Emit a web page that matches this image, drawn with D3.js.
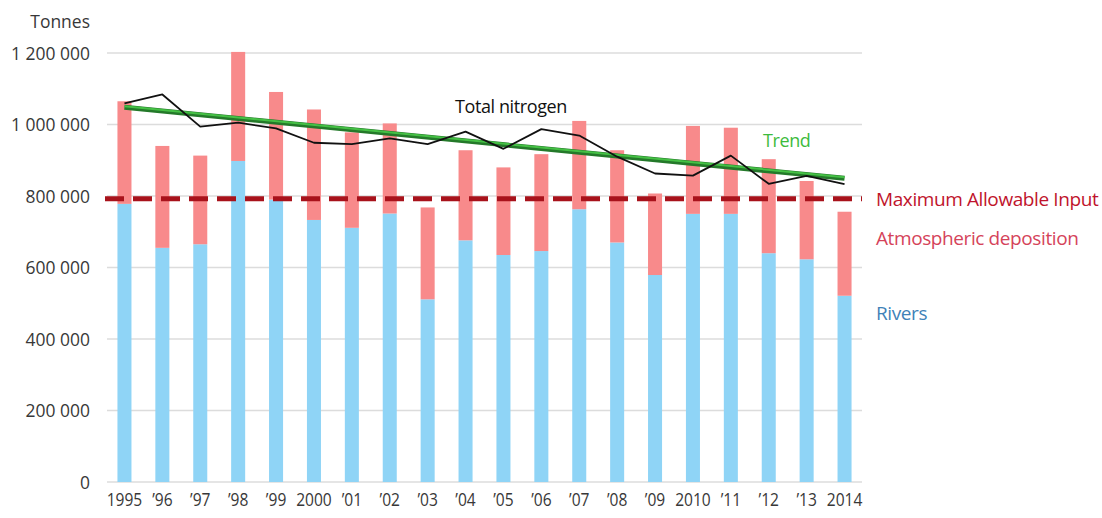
<!DOCTYPE html>
<html>
<head>
<meta charset="utf-8">
<script src="https://cdn.jsdelivr.net/npm/d3@7"></script>
<style>
  body { margin: 0; background: #fff; }
  text { font-family: "Open Sans", "Noto Sans", sans-serif; }
</style>
</head>
<body>
<svg id="mainsvg" width="1102" height="518"></svg>
<script>
// year labels as printed under the bars
let years = ["1995", "’96", "’97", "’98", "’99", "2000", "’01", "’02", "’03", "’04",
             "’05", "’06", "’07", "’08", "’09", "2010", "’11", "’12", "’13", "2014"];
// tonnes of nitrogen from rivers
let rivers = [778000, 655000, 665000, 898000, 790000, 733000, 711000, 751000, 511000, 676000,
              635000, 646000, 763000, 670000, 579000, 750000, 750000, 640000, 623000, 521000];
// tonnes from atmospheric deposition (stacked on rivers)
let atmospheric = [287000, 285000, 248000, 305000, 301000, 309000, 267000, 252000, 257000, 252000,
                   245000, 271000, 247000, 258000, 228000, 246000, 241000, 263000, 219000, 235000];
// normalised total nitrogen (black line)
let totalNitrogen = [1059000, 1084000, 994000, 1005000, 989000, 949000, 945000, 961000, 945000, 980000,
                     932000, 987000, 969000, 910000, 863000, 857000, 913000, 834000, 856000, 833000];
// linear trend, first and last year
let trendEnds = [[0, 1048000], [19, 849500]];
let maxAllowableInput = 792209;
let yTicks = [0, 200000, 400000, 600000, 800000, 1000000, 1200000];

let svg = d3.select("#mainsvg");

let x = d3.scaleBand()
    .domain(d3.range(years.length))
    .range([98.5, 870.5])
    .paddingInner(0.63)
    .paddingOuter(0.5);
let y = d3.scaleLinear().domain([0, 1200000]).range([482, 53]);
let cx = i => x(i) + x.bandwidth() / 2;

let fmt = v => d3.format(",")(v).replace(/,/g, " ");

// gridlines
svg.append("g").selectAll("line").data(yTicks).enter()
    .append("line")
    .attr("x1", 107).attr("x2", 862)
    .attr("y1", d => y(d)).attr("y2", d => y(d))
    .attr("stroke", "#dcdcdc").attr("stroke-width", 1.5);

// y axis labels (no domain line)
let yAxis = svg.append("g")
    .attr("transform", "translate(90,0)")
    .call(d3.axisLeft(y).tickValues(yTicks).tickFormat(fmt).tickSize(0).tickPadding(0));
yAxis.select(".domain").remove();
yAxis.selectAll("text")
    .attr("font-size", 19).attr("fill", "#383838")
    .attr("font-family", "'Open Sans', sans-serif")
    .attr("transform", "scale(0.92,1)");

svg.append("text")
    .attr("x", 90).attr("y", 28)
    .attr("text-anchor", "end")
    .attr("font-size", 19).attr("fill", "#383838")
    .attr("transform", "translate(90,0) scale(0.92,1) translate(-90,0)")
    .text("Tonnes");

// x axis labels
let xAxis = svg.append("g")
    .attr("transform", "translate(0,493)")
    .call(d3.axisBottom(x).tickFormat(i => years[i]).tickSize(0).tickPadding(0));
xAxis.select(".domain").remove();
xAxis.selectAll("text")
    .attr("font-size", 19).attr("fill", "#383838")
    .attr("font-family", "'Open Sans', sans-serif")
    .attr("transform", "scale(0.82,1)");

// stacked bars
let barsg = svg.append("g");
barsg.selectAll(".river").data(rivers).enter()
    .append("rect")
    .attr("class", "river")
    .attr("x", (d, i) => x(i))
    .attr("width", x.bandwidth())
    .attr("y", d => y(d))
    .attr("height", d => y(0) - y(d))
    .attr("fill", "#8fd4f6");
barsg.selectAll(".atmo").data(atmospheric).enter()
    .append("rect")
    .attr("class", "atmo")
    .attr("x", (d, i) => x(i))
    .attr("width", x.bandwidth())
    .attr("y", (d, i) => y(rivers[i] + d))
    .attr("height", (d, i) => y(rivers[i]) - y(rivers[i] + d))
    .attr("fill", "#f88a8b");

// maximum allowable input
svg.append("line")
    .attr("x1", 105).attr("x2", 862)
    .attr("y1", y(maxAllowableInput)).attr("y2", y(maxAllowableInput))
    .attr("stroke", "#a8121b").attr("stroke-width", 5)
    .attr("stroke-dasharray", "19,9");

// trend
let trendLine = d3.line().x(d => cx(d[0])).y(d => y(d[1]));
svg.append("path").attr("d", trendLine(trendEnds))
    .attr("fill", "none").attr("stroke", "#24792a").attr("stroke-width", 5);
svg.append("path").attr("d", trendLine(trendEnds))
    .attr("transform", "translate(0,-1)")
    .attr("fill", "none").attr("stroke", "#45c045").attr("stroke-width", 2);

// total nitrogen
let totalLine = d3.line().x((d, i) => cx(i)).y(d => y(d));
svg.append("path").attr("d", totalLine(totalNitrogen))
    .attr("fill", "none").attr("stroke", "#111").attr("stroke-width", 1.8)
    .attr("stroke-linejoin", "round");

// labels
svg.append("text").attr("x", 455).attr("y", 113)
    .attr("font-size", 18).attr("fill", "#111").attr("letter-spacing", -0.4)
    .text("Total nitrogen");
svg.append("text").attr("x", 763).attr("y", 147)
    .attr("font-size", 18).attr("fill", "#3dbb3d").attr("letter-spacing", -0.4)
    .text("Trend");

let legend = [
    {label: "Maximum Allowable Input", y: y(maxAllowableInput) + 7, color: "#c0142c"},
    {label: "Atmospheric deposition", y: 245, color: "#d5435a"},
    {label: "Rivers", y: 320, color: "#3f82b8"}
];
svg.append("g").selectAll("text").data(legend).enter()
    .append("text")
    .attr("x", 876).attr("y", d => d.y)
    .attr("font-size", 19).attr("fill", d => d.color)
    .attr("letter-spacing", -0.4)
    .text(d => d.label);
</script>
</body>
</html>
